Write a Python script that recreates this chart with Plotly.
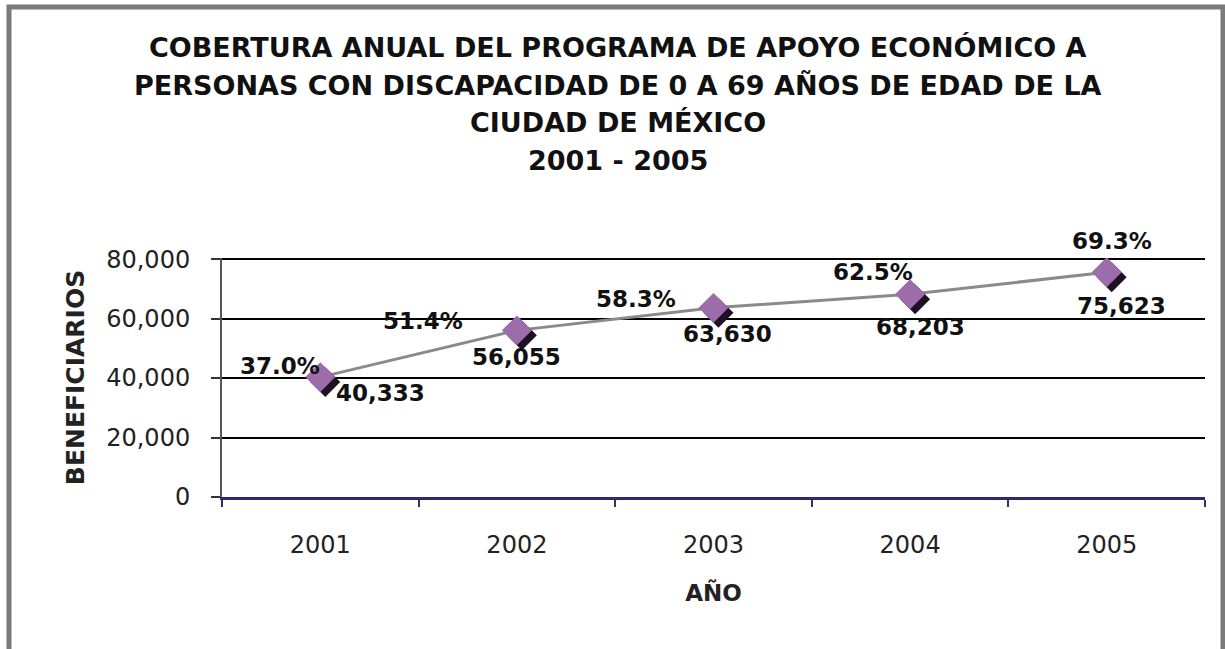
import plotly.graph_objects as go

years = ["2001", "2002", "2003", "2004", "2005"]
beneficiarios = [40333, 56055, 63630, 68203, 75623]
cobertura_pct = [37.0, 51.4, 58.3, 62.5, 69.3]
y_ticks = [0, 20000, 40000, 60000, 80000]
title_lines = [
    "COBERTURA ANUAL DEL PROGRAMA DE APOYO ECONÓMICO A",
    "PERSONAS CON DISCAPACIDAD DE 0 A 69 AÑOS DE EDAD DE LA",
    "CIUDAD DE MÉXICO",
    "2001 - 2005",
]

# label offsets in pixels (style)
pct_shift = [(-40, 11), (-94, 9), (-78, 9), (-37, 22), (5, 31)]
val_shift = [(60, -16), (0, -27), (14, -26), (10, -33), (15, -34)]

W, H = 1225, 649
YMAX = 80400
L, R, B = 222, 20, 152
ph = 238.0 * YMAX / 80000
T = H - B - ph
pw = W - L - R

FONT = "DejaVu Sans"

fig = go.Figure()

# connecting line (primary axes)
fig.add_trace(go.Scatter(
    x=years, y=beneficiarios, mode="lines",
    line=dict(color="#8a8a8a", width=3),
    hoverinfo="skip", showlegend=False))

# shadow of markers (same data, slightly offset axes)
dx = 5 / (pw / 5)
dy = 5 / ph * YMAX
fig.add_trace(go.Scatter(
    x=years, y=beneficiarios, mode="markers", xaxis="x2", yaxis="y2",
    marker=dict(symbol="diamond", size=23, color="#1e1222"),
    hoverinfo="skip", showlegend=False))

# markers
fig.add_trace(go.Scatter(
    x=years, y=beneficiarios, mode="markers", xaxis="x3", yaxis="y3",
    marker=dict(symbol="diamond", size=23, color="#9c6cab"),
    showlegend=False))

annotations = []
for i, (v, p) in enumerate(zip(beneficiarios, cobertura_pct)):
    annotations.append(dict(x=i, y=v, xref="x", yref="y", text=f"{p:.1f}%",
                            showarrow=False, xshift=pct_shift[i][0], yshift=pct_shift[i][1],
                            font=dict(family=FONT, size=23, color="#111111", weight="bold")))
    annotations.append(dict(x=i, y=v, xref="x", yref="y", text=f"{v:,}",
                            showarrow=False, xshift=val_shift[i][0], yshift=val_shift[i][1],
                            font=dict(family=FONT, size=23, color="#111111", weight="bold")))

title_y = [47, 85, 122, 160]
for line, py in zip(title_lines, title_y):
    annotations.append(dict(x=(618 - L) / pw, y=(H - B - py) / ph, xref="paper", yref="paper",
                            text=line, showarrow=False, xanchor="center", yanchor="middle",
                            font=dict(family=FONT, size=27, color="#111111", weight="bold")))

fig.update_layout(
    width=W, height=H,
    margin=dict(l=L, r=R, t=T, b=B),
    paper_bgcolor="white", plot_bgcolor="white",
    annotations=annotations,
    xaxis=dict(
        type="category", range=[-0.5, 4.5], tickson="boundaries",
        ticks="outside", ticklen=7, tickwidth=2, tickcolor="#333366",
        showline=True, linecolor="#2b2b6b", linewidth=3,
        showgrid=False, zeroline=False,
        tickfont=dict(family=FONT, size=24, color="#222222"),
        ticklabelstandoff=24,
        title=dict(text="AÑO", font=dict(family=FONT, size=23, color="#222222", weight="bold"), standoff=28),
    ),
    yaxis=dict(
        range=[0, YMAX], tickvals=y_ticks, ticktext=[f"{t:,}" for t in y_ticks],
        ticks="outside", ticklen=9, tickwidth=2, tickcolor="#333333",
        showline=True, linecolor="#555555", linewidth=2,
        showgrid=True, gridcolor="#000000", gridwidth=2, zeroline=False,
        tickfont=dict(family=FONT, size=24, color="#222222"),
        ticklabelstandoff=16,
        title=dict(text="BENEFICIARIOS", font=dict(family=FONT, size=25, color="#222222", weight="bold"), standoff=14),
    ),
    xaxis2=dict(type="category", range=[-0.5 - dx, 4.5 - dx], overlaying="x", visible=False),
    yaxis2=dict(range=[dy, YMAX + dy], overlaying="y", visible=False),
    xaxis3=dict(type="category", range=[-0.5, 4.5], overlaying="x", visible=False),
    yaxis3=dict(range=[0, YMAX], overlaying="y", visible=False),
    shapes=[
        dict(type="rect", xref="paper", yref="paper",
             x0=(9 - L) / pw, x1=(1223 - L) / pw, y0=(H - B - 680) / ph, y1=(H - B - 6.5) / ph,
             line=dict(color="#7a7a7a", width=5), fillcolor="rgba(0,0,0,0)", layer="below"),
    ],
)

fig.write_html("out.html", config={"displayModeBar": False},
               post_script="document.body.style.margin='0';")
